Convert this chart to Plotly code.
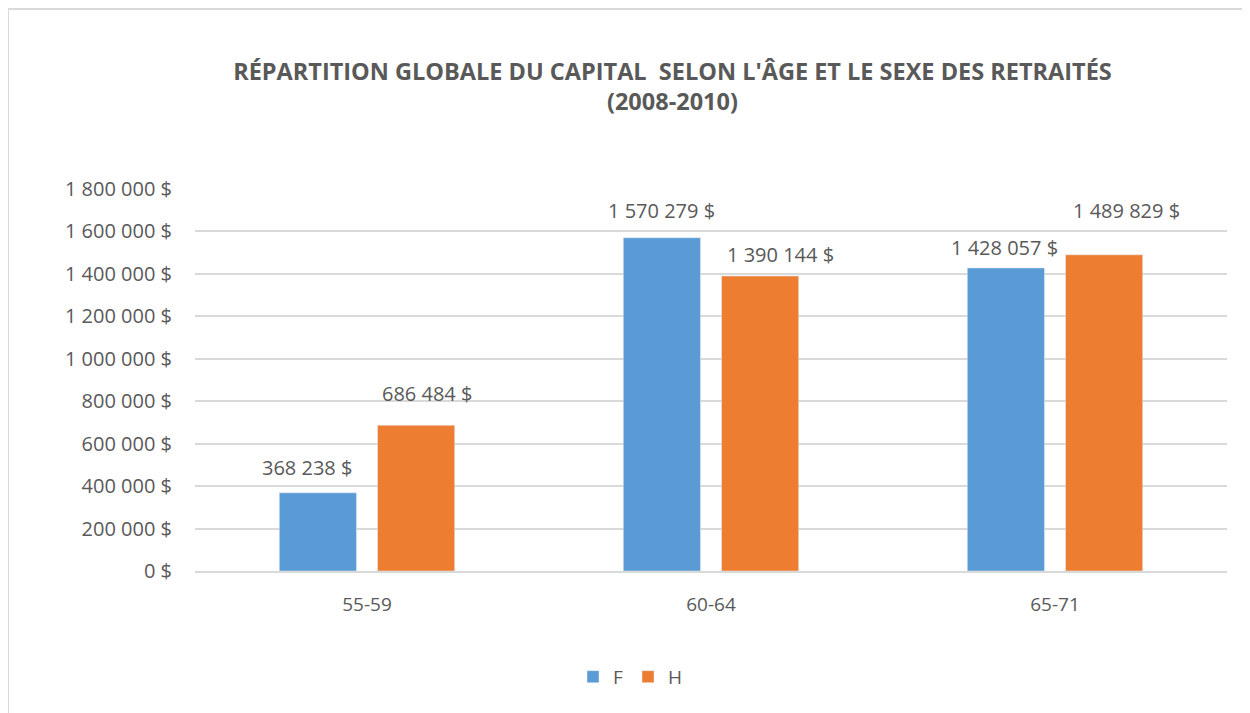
import plotly.graph_objects as go

categories = ["55-59", "60-64", "65-71"]
f_values = [368238, 1570279, 1428057]
h_values = [686484, 1390144, 1489829]
tick_vals = [0, 200000, 400000, 600000, 800000, 1000000, 1200000, 1400000, 1600000, 1800000]

# label placement (pixel offsets from bar top-centre), mimicking the original chart
f_label_offsets = [(-11, 25), (-1, 27), (-2, 20)]
h_label_offsets = [(11, 32), (20, 21), (22, 44)]


def fmt(v):
    return "{:,.0f}".format(v).replace(",", " ") + " $"


tick_text = [fmt(v) for v in tick_vals]

FONT = "'Open Sans', Calibri, sans-serif"
GREY = "#595959"

fig = go.Figure()
fig.add_trace(go.Bar(name="F", x=categories, y=f_values, marker_color="#5B9BD5"))
fig.add_trace(go.Bar(name="H", x=categories, y=h_values, marker_color="#ED7D31"))

annotations = []
for vals, offs, shift in ((f_values, f_label_offsets, -49), (h_values, h_label_offsets, 49)):
    for c, v, (dx, dy) in zip(categories, vals, offs):
        annotations.append(dict(x=c, y=v, xref="x", yref="y", text=fmt(v), showarrow=False,
                                xshift=shift + dx, yanchor="middle", yshift=dy,
                                font=dict(size=20, color=GREY, family=FONT)))

fig.update_layout(
    width=1242, height=705,
    margin=dict(l=187, r=23, t=181, b=142),
    paper_bgcolor="white", plot_bgcolor="white",
    barmode="group", bargap=0.429, bargroupgap=0.214,
    font=dict(family=FONT, color=GREY, size=18),
    title=dict(text="<b>RÉPARTITION GLOBALE DU CAPITAL  SELON L'ÂGE ET LE SEXE DES RETRAITÉS<br>(2008-2010)</b>",
               x=0.535, xanchor="center", y=0.898, yanchor="middle",
               font=dict(size=23.5, color=GREY, family=FONT)),
    showlegend=True,
    legend=dict(orientation="h", x=0.422, xanchor="center", y=-0.277, yanchor="middle",
                itemwidth=30, font=dict(size=19, color=GREY, family=FONT)),
    yaxis=dict(range=[0, 1800000], tickvals=tick_vals, ticktext=tick_text,
               showgrid=True, gridcolor="#D9D9D9", gridwidth=1.5, zeroline=False,
               showline=False, ticks="", ticklabelstandoff=22,
               tickfont=dict(size=20, color=GREY, family=FONT)),
    xaxis=dict(showline=True, linecolor="#D9D9D9", linewidth=1.5, ticks="",
               ticklabelstandoff=15,
               tickfont=dict(size=19, color=GREY, family=FONT)),
    annotations=annotations,
)

fig.add_shape(type="rect", xref="paper", yref="paper",
              x0=-0.1812, y0=-0.6, x1=1.2, y1=1.471,
              line=dict(color="#D9D9D9", width=2), fillcolor="rgba(0,0,0,0)", layer="below")

fig.write_html("out.html")
